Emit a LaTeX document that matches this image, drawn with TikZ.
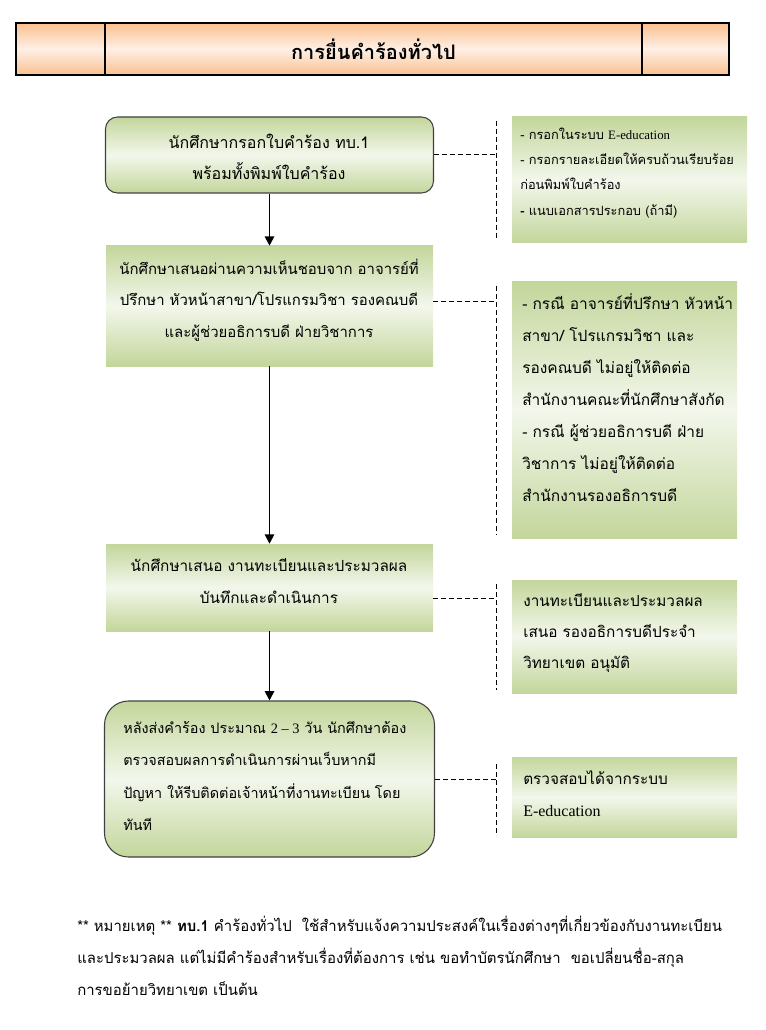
\documentclass[tikz,border=0pt]{standalone}
\usepackage{fontspec}
\setmainfont{Loma}[Script=Thai]
\newfontfamily\lat{Liberation Serif}
\usetikzlibrary{arrows.meta}
\definecolor{gdark}{HTML}{C3D69B}
\definecolor{glight}{HTML}{F3F7EC}
\definecolor{odark}{HTML}{FAC090}
\definecolor{olight}{HTML}{FEF0E6}
\tikzset{
  hcell/.style={draw=black, line width=0.8pt, top color=odark, bottom color=odark, middle color=olight, minimum height=39pt, inner sep=0pt},
  greenfill/.style={top color=gdark, bottom color=gdark, middle color=glight, inner sep=0pt},
  roundbox/.style={greenfill, draw=black!75, line width=0.8pt},
  boxtext/.style={inner sep=0pt, align=center},
  notetext/.style={inner sep=0pt, align=left, anchor=west},
  flow/.style={line width=1.4pt, -{Triangle[length=7pt,width=7pt]}},
  dashline/.style={line width=0.75pt, dash pattern=on 3.5pt off 2.5pt}
}
\begin{document}
\begin{tikzpicture}[x=0.75pt,y=-0.75pt]
\useasboundingbox (0,0) rectangle (766,1030);
% header
\node[hcell, minimum width=66.75pt] (h1) at (60.5,49) {};
\node[hcell, minimum width=402.75pt] (h2) at (373.5,49) {\fontsize{15}{18}\selectfont\bfseries การยื่นคำร้องทั่วไป};
\node[hcell, minimum width=65.25pt] (h3) at (685.5,49) {};
% main boxes
\node[roundbox, rounded corners=9pt, minimum width=246pt, minimum height=57pt] (b1) at (269.5,155) {};
\node[boxtext, font=\fontsize{12}{23}\selectfont] (b1t) at (269,157)
  {นักศึกษากรอกใบคำร้อง ทบ.1\\พร้อมทั้งพิมพ์ใบคำร้อง};
\node[greenfill, minimum width=245.25pt, minimum height=90pt] (b2) at (269.5,306) {};
\node[boxtext, font=\fontsize{11.2}{23.5}\selectfont] (b2t) at (269,300)
  {นักศึกษาเสนอผ่านความเห็นชอบจาก อาจารย์ที่\\ปรึกษา หัวหน้าสาขา/โปรแกรมวิชา รองคณบดี\\และผู้ช่วยอธิการบดี ฝ่ายวิชาการ};
\node[greenfill, minimum width=245.25pt, minimum height=65.25pt] (b3) at (269.5,587.5) {};
\node[boxtext, font=\fontsize{11.5}{24.5}\selectfont] (b3t) at (269,581)
  {นักศึกษาเสนอ งานทะเบียนและประมวลผล\\บันทึกและดำเนินการ};
\node[roundbox, rounded corners=18pt, minimum width=247.5pt, minimum height=117pt] (b4) at (269.5,779) {};
\node[notetext, font=\fontsize{10.8}{24.2}\selectfont] (b4t) at (123,776)
  {หลังส่งคำร้อง ประมาณ {\lat 2 – 3} วัน นักศึกษาต้อง\\ตรวจสอบผลการดำเนินการผ่านเว็บหากมี\\ปัญหา ให้รีบติดต่อเจ้าหน้าที่งานทะเบียน โดย\\ทันที};
% notes
\node[greenfill, minimum width=176.25pt, minimum height=94.5pt] (n1) at (629.5,180) {};
\node[notetext, font=\fontsize{9.6}{18.9}\selectfont] (n1t) at (520,173)
  {- กรอกในระบบ {\lat E-education}\\- กรอกรายละเอียดให้ครบถ้วนเรียบร้อย\\ก่อนพิมพ์ใบคำร้อง\\\textbf{-} แนบเอกสารประกอบ (ถ้ามี)};
\node[greenfill, minimum width=168.75pt, minimum height=192pt] (n2) at (624.5,410) {};
\node[notetext, font=\fontsize{11.6}{24}\selectfont] (n2t) at (522,398)
  {- กรณี อาจารย์ที่ปรึกษา หัวหน้า\\สาขา/ โปรแกรมวิชา และ\\รองคณบดี ไม่อยู่ให้ติดต่อ\\สำนักงานคณะที่นักศึกษาสังกัด\\- กรณี ผู้ช่วยอธิการบดี ฝ่าย\\วิชาการ ไม่อยู่ให้ติดต่อ\\สำนักงานรองอธิการบดี};
\node[greenfill, minimum width=168.75pt, minimum height=84.75pt] (n3) at (624.5,636.5) {};
\node[notetext, font=\fontsize{11.5}{23.3}\selectfont] (n3t) at (523,633)
  {งานทะเบียนและประมวลผล\\เสนอ รองอธิการบดีประจำ\\วิทยาเขต อนุมัติ};
\node[greenfill, minimum width=168.75pt, minimum height=60pt] (n4) at (624.5,797) {};
\node[notetext, font=\fontsize{11.5}{24}\selectfont] (n4t) at (523,794)
  {ตรวจสอบได้จากระบบ\\{\lat\fontsize{12}{24}\selectfont E-education}};
% flow arrows
\draw[flow] (b1) -- (b2);
\draw[flow] (b2) -- (b3);
\draw[flow] (b3) -- (b4);
% dashed brackets
\coordinate (t1) at (496,121); \coordinate (u1) at (496,238);
\coordinate (t2) at (496,286); \coordinate (u2) at (496,535);
\coordinate (t3) at (496,584); \coordinate (u3) at (496,690);
\coordinate (t4) at (496,764); \coordinate (u4) at (496,836);
\draw[dashline] (t1) -- (u1);
\draw[dashline] (t2) -- (u2);
\draw[dashline] (t3) -- (u3);
\draw[dashline] (t4) -- (u4);
\draw[dashline] (b1.east) -- (b1.east -| t1);
\draw[dashline] ([yshift=3.75pt]b2.east) -- ([yshift=3.75pt]b2.east -| t2);
\draw[dashline] ([yshift=-7.9pt]b3.east) -- ([yshift=-7.9pt]b3.east -| t3);
\draw[dashline] (b4.east) -- (b4.east -| t4);
% footnote
\node[anchor=north west, align=left, inner sep=0pt, font=\fontsize{11.2}{24}\selectfont] (fn) at (77,916)
  {** หมายเหตุ ** \textbf{ทบ.1} คำร้องทั่วไป\ \ ใช้สำหรับแจ้งความประสงค์ในเรื่องต่างๆที่เกี่ยวข้องกับงานทะเบียน\\และประมวลผล แต่ไม่มีคำร้องสำหรับเรื่องที่ต้องการ เช่น ขอทำบัตรนักศึกษา\ \ ขอเปลี่ยนชื่อ-สกุล\\การขอย้ายวิทยาเขต เป็นต้น};
\end{tikzpicture}
\end{document}
